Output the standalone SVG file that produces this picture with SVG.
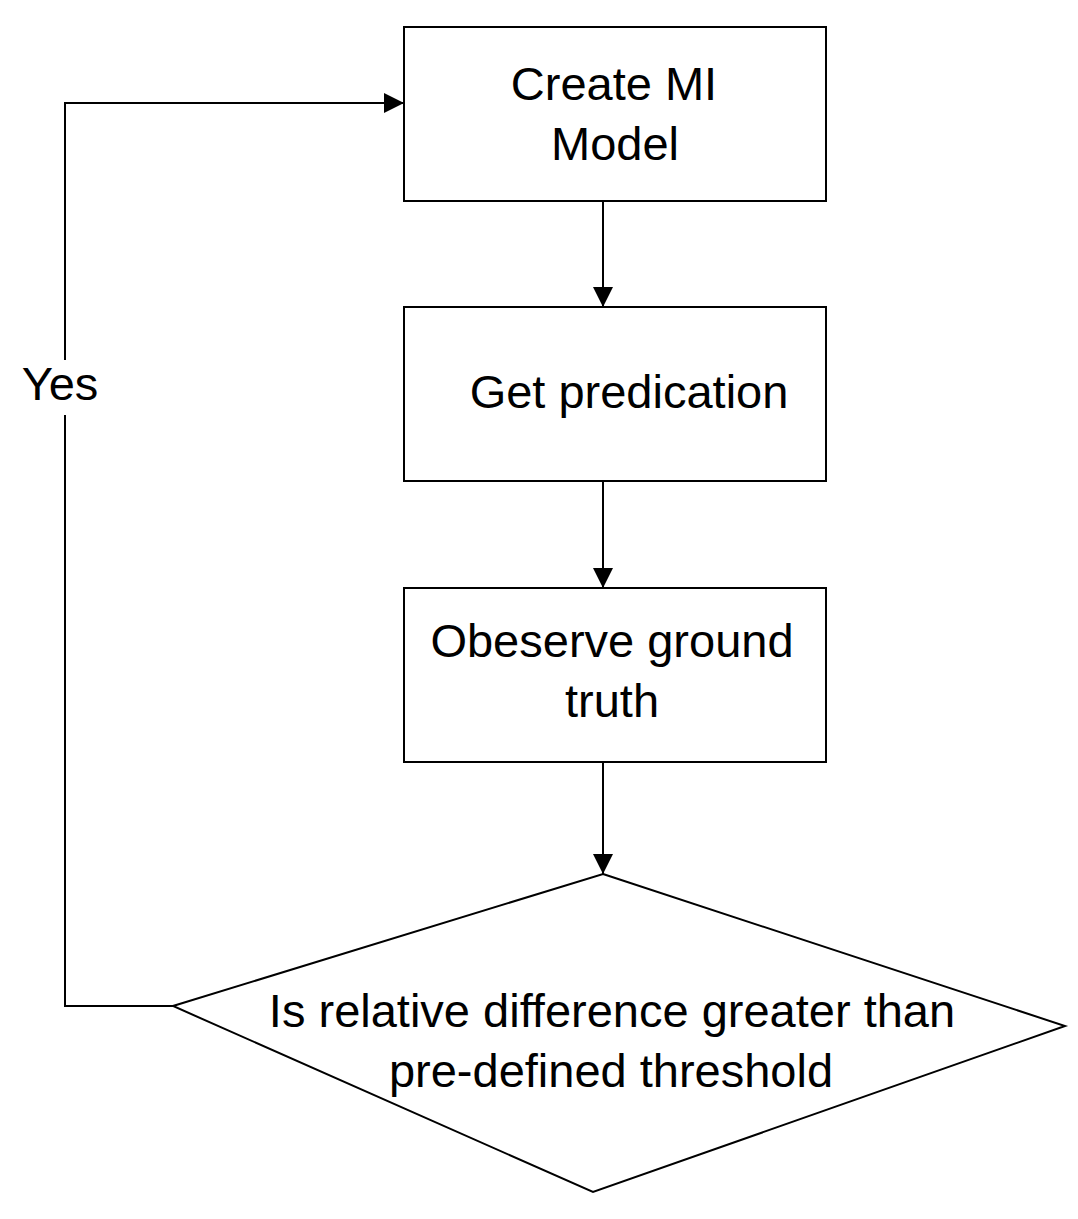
<svg xmlns="http://www.w3.org/2000/svg" width="1078" height="1219" viewBox="0 0 1078 1219">
<style>
.node{fill:#fff;stroke:#000;stroke-width:2}
.t{font-family:"Liberation Sans",Arial,sans-serif;font-size:47px;fill:#000;text-anchor:middle}
.c{fill:none;stroke:#000;stroke-width:2}
</style>
<defs>
<marker id="ah" viewBox="0 0 20 20" refX="20" refY="10" markerWidth="20" markerHeight="20" markerUnits="userSpaceOnUse" orient="auto">
<path d="M0,0 L20,10 L0,20 Z" fill="#000"/>
</marker>
</defs>
<rect width="1078" height="1219" fill="#fff"/>
<g id="connectors">
<line class="c" x1="603" y1="201" x2="603" y2="307" marker-end="url(#ah)"/>
<line class="c" x1="603" y1="481" x2="603" y2="588" marker-end="url(#ah)"/>
<line class="c" x1="603" y1="762" x2="603" y2="874" marker-end="url(#ah)"/>
<polyline class="c" points="173,1006 65,1006 65,415"/>
<polyline class="c" points="65,360 65,103 404,103" marker-end="url(#ah)"/>
<text class="t" x="60" y="400">Yes</text>
</g>
<g id="create-model">
<rect class="node" x="404" y="27" width="422" height="174"/>
<text class="t" x="614" y="100">Create MI</text>
<text class="t" x="615" y="160">Model</text>
</g>
<g id="get-prediction">
<rect class="node" x="404" y="307" width="422" height="174"/>
<text class="t" x="629" y="408">Get predication</text>
</g>
<g id="observe">
<rect class="node" x="404" y="588" width="422" height="174"/>
<text class="t" x="612" y="657">Obeserve ground</text>
<text class="t" x="612" y="717">truth</text>
</g>
<g id="decision">
<polygon class="node" points="603,874 1065,1026 593,1192 173,1006"/>
<text class="t" x="612" y="1027">Is relative difference greater than</text>
<text class="t" x="611" y="1087">pre-defined threshold</text>
</g>
</svg>
